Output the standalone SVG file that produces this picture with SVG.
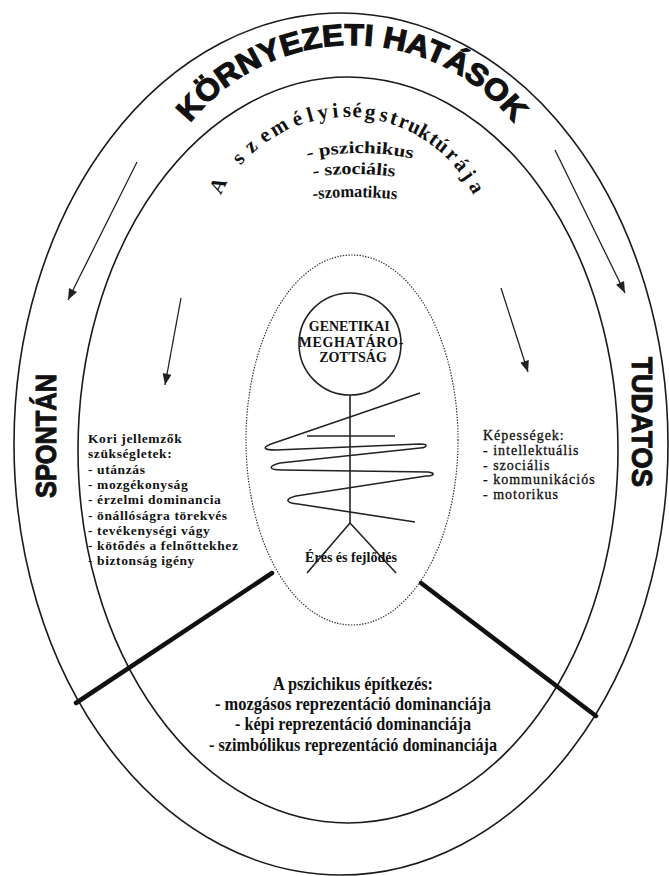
<svg xmlns="http://www.w3.org/2000/svg" width="669" height="876" viewBox="0 0 669 876">
<style>
.ring{fill:none;stroke:#1a1a1a;stroke-width:1.6}
.dot{fill:none;stroke:#333;stroke-width:1.2;stroke-dasharray:1.4 1.4}
.thick{stroke:#111;stroke-width:4.5;stroke-linecap:round}
.arrow{stroke:#222;stroke-width:1.3;fill:none;marker-end:url(#ah)}
.fig{fill:none;stroke:#222;stroke-width:1.6;stroke-linejoin:round}
.serif{font-family:"Liberation Serif","Times New Roman",serif;fill:#111}
.sans{font-family:"Liberation Sans",Arial,sans-serif;font-weight:bold;fill:#111;stroke:#111}
</style>
<defs>
<marker id="ah" viewBox="0 0 10 8" refX="10" refY="4" markerWidth="13" markerHeight="9" markerUnits="userSpaceOnUse" orient="auto"><path d="M0,0 L10,4 L0,8 Z" fill="#222"/></marker>
<path id="titleArc" d="M145,252 A207 207 0 0 1 559,252"/>
<path id="p1" d="M120,393 A240 240 0 0 1 600,393"/>
<path id="p2" d="M54,474 A300 300 0 0 1 654,474"/>
<path id="p3" d="M-45,597 A400 400 0 0 1 755,597"/>
</defs>
<rect width="669" height="876" fill="#fff"/>

<g id="outer-ring"><ellipse class="ring" cx="341" cy="444" rx="327" ry="431"/></g>
<g id="middle-ring"><ellipse class="ring" cx="348" cy="450" rx="270" ry="373"/></g>
<g id="core"><ellipse class="dot" cx="352" cy="440" rx="106" ry="185"/></g>

<g id="dividers">
<line class="thick" x1="76" y1="703" x2="272" y2="573"/>
<line class="thick" x1="596" y1="716" x2="421" y2="583"/>
</g>

<g id="title">
<text class="sans" font-size="30" stroke-width="1.2"><textPath href="#titleArc" startOffset="50%" text-anchor="middle" textLength="372" lengthAdjust="spacingAndGlyphs">KÖRNYEZETI HATÁSOK</textPath></text>
</g>

<g id="structure">
<text class="serif" font-size="21" font-weight="bold" x="220.7 230 240.6 251.7 264.7 274.8 295.3 309.1 319.1 333.0 343.1 352.2 364.2 373 378.5 388.7 397.3 406.4 416.6 427.5 433.6 444.4 453.1 461.6 468.2" y="195.3 180 165.5 154.0 143.5 136.9 126.8 122.2 119.8 117.7 117.1 117.1 118.1 119 120.6 123.3 126.3 130.1 135.4 142.2 146.7 156.1 165.1 175.9 186.0" rotate="-63.6 -56 -49 -42.5 -35.7 -30.8 -21.5 -15.6 -11.4 -5.7 -1.6 2.1 7 10 12.9 17.2 20.9 24.9 29.6 34.8 37.9 43.7 48.8 54.4 59.3">A személyiség struktúrája</text>
<text class="serif" font-size="17" font-weight="bold"><textPath href="#p1" startOffset="50%" text-anchor="middle" textLength="106" lengthAdjust="spacingAndGlyphs">- pszichikus</textPath></text>
<text class="serif" font-size="17" font-weight="bold"><textPath href="#p2" startOffset="50%" text-anchor="middle" textLength="82" lengthAdjust="spacingAndGlyphs">- szociális</textPath></text>
<text class="serif" font-size="17" font-weight="bold"><textPath href="#p3" startOffset="50%" text-anchor="middle" textLength="84" lengthAdjust="spacingAndGlyphs">-szomatikus</textPath></text>
</g>

<g id="spontan">
<text class="sans" font-size="30" stroke-width="1" transform="translate(56,436) rotate(-90)" text-anchor="middle" textLength="124" lengthAdjust="spacingAndGlyphs">SPONTÁN</text>
</g>
<g id="tudatos">
<text class="sans" font-size="30" stroke-width="1" transform="translate(632,422) rotate(90)" text-anchor="middle" textLength="130" lengthAdjust="spacingAndGlyphs">TUDATOS</text>
</g>

<g id="connectors">
<line class="arrow" x1="137" y1="162" x2="68" y2="300"/>
<line class="arrow" x1="181" y1="298" x2="165" y2="385"/>
<line class="arrow" x1="501" y1="288" x2="528" y2="372"/>
<line class="arrow" x1="555" y1="150" x2="625" y2="293"/>
</g>

<g id="head">
<circle class="fig" cx="350" cy="344" r="51"/>
<text class="serif" font-size="14" font-weight="bold" text-anchor="middle">
<tspan x="351" y="331">GENETIKAI</tspan>
<tspan x="353" y="347" letter-spacing="0.7">MEGHATÁRO-</tspan>
<tspan x="353" y="362">ZOTTSÁG</tspan>
</text>
</g>

<g id="figure">
<line class="fig" x1="350" y1="395" x2="350" y2="523"/>
<polyline class="fig" points="307,573 350,523 396,573"/>
<path class="fig" d="M420,393 L274,443 C262,447 262,450 276,450 L420,444 C428,444 428,447 420,448 L280,463 C268,466 268,470 282,470 L428,472 C436,473 434,476 426,476 L296,496 C284,499 286,503 298,504 L415,522"/>
<line class="fig" x1="307" y1="436" x2="395" y2="436"/>
<text class="serif" font-size="14" font-weight="bold" x="351" y="562" text-anchor="middle">Érés és fejlődés</text>
</g>

<g id="needs">
<text class="serif" font-size="13.5" font-weight="bold" letter-spacing="0.6">
<tspan x="88" y="443">Kori jellemzők</tspan>
<tspan x="88" y="458.3">szükségletek:</tspan>
<tspan x="88" y="473.6">- utánzás</tspan>
<tspan x="88" y="488.9">- mozgékonyság</tspan>
<tspan x="88" y="504.2">- érzelmi dominancia</tspan>
<tspan x="88" y="519.5">- önállóságra törekvés</tspan>
<tspan x="88" y="534.8">- tevékenységi vágy</tspan>
<tspan x="88" y="550.1">- kötődés a felnőttekhez</tspan>
<tspan x="88" y="565.4">- biztonság igény</tspan>
</text>
</g>

<g id="abilities">
<text class="serif" font-size="14" letter-spacing="1" stroke="#111" stroke-width="0.3">
<tspan x="483" y="440">Képességek:</tspan>
<tspan x="483" y="455">- intellektuális</tspan>
<tspan x="483" y="469.5">- szociális</tspan>
<tspan x="483" y="484">- kommunikációs</tspan>
<tspan x="483" y="499">- motorikus</tspan>
</text>
</g>

<g id="psychic">
<text class="serif" font-size="19" font-weight="bold" text-anchor="middle" x="353" y="690" textLength="160" lengthAdjust="spacingAndGlyphs">A pszichikus építkezés:</text>
<text class="serif" font-size="19" font-weight="bold" text-anchor="middle" x="353" y="710" textLength="276" lengthAdjust="spacingAndGlyphs">- mozgásos reprezentáció dominanciája</text>
<text class="serif" font-size="19" font-weight="bold" text-anchor="middle" x="353" y="730" textLength="236" lengthAdjust="spacingAndGlyphs">- képi reprezentáció dominanciája</text>
<text class="serif" font-size="19" font-weight="bold" text-anchor="middle" x="353" y="751" textLength="288" lengthAdjust="spacingAndGlyphs">- szimbólikus reprezentáció dominanciája</text>
</g>
</svg>
